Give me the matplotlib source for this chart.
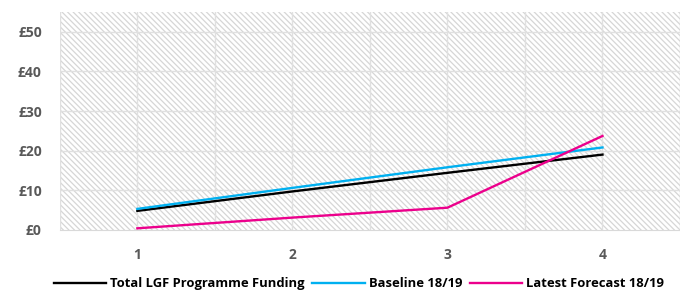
import matplotlib
matplotlib.use("Agg")
import matplotlib.pyplot as plt

categories = [1, 2, 3, 4]
total_lgf = [4.8, 9.7, 14.4, 19.0]
baseline = [5.3, 10.6, 15.8, 20.8]
latest = [0.4, 3.1, 5.6, 23.7]
y_ticks = [0, 10, 20, 30, 40, 50]
y_labels = ["£0", "£10", "£20", "£30", "£40", "£50"]

plt.rcParams['hatch.color'] = '#D6D6D6'
plt.rcParams['hatch.linewidth'] = 0.9
plt.rcParams['font.family'] = ['Open Sans', 'DejaVu Sans']

fig = plt.figure(figsize=(6.8, 2.91), dpi=100)
ax = fig.add_axes([0.088, 0.210, 0.912, 0.749])
ax.patch.set_facecolor('white')
ax.patch.set_hatch('\\\\\\\\\\\\')
ax.patch.set_edgecolor('#D6D6D6')
ax.patch.set_linewidth(0)

ax.plot(categories, total_lgf, color='black', lw=1.7, label='Total LGF Programme Funding', zorder=3)
ax.plot(categories, baseline, color='#00B0F0', lw=1.7, label='Baseline 18/19', zorder=3)
ax.plot(categories, latest, color='#EC008C', lw=1.7, label='Latest Forecast 18/19', zorder=3)

ax.set_xlim(0.5, 4.5)
ax.set_ylim(0, 55)
ax.set_yticks(y_ticks)
ax.set_yticklabels(y_labels)
ax.set_xticks(categories)
for xv in [0.5, 1, 1.5, 2, 2.5, 3, 3.5, 4, 4.5]:
    ax.axvline(xv, color='#E0E0E0', lw=1.0, zorder=1)
for yv in y_ticks[1:]:
    ax.axhline(yv, color='#E0E0E0', lw=1.0, zorder=1)
for s in ['top', 'right', 'left']:
    ax.spines[s].set_visible(False)
ax.spines['bottom'].set_color('#D9D9D9')
ax.tick_params(axis='both', length=0, labelsize=10, colors='#595959')
for lab in ax.get_xticklabels() + ax.get_yticklabels():
    lab.set_fontweight('bold')
ax.tick_params(axis='y', pad=13)
ax.tick_params(axis='x', pad=13)

leg = fig.legend(loc='center', bbox_to_anchor=(0.528, 0.025), ncol=3, frameon=False,
                 prop={'weight': 'bold', 'size': 9.4}, handlelength=4.0, columnspacing=0.6,
                 handletextpad=0.3, borderpad=0.1)

fig.savefig('out.png', dpi=100)
